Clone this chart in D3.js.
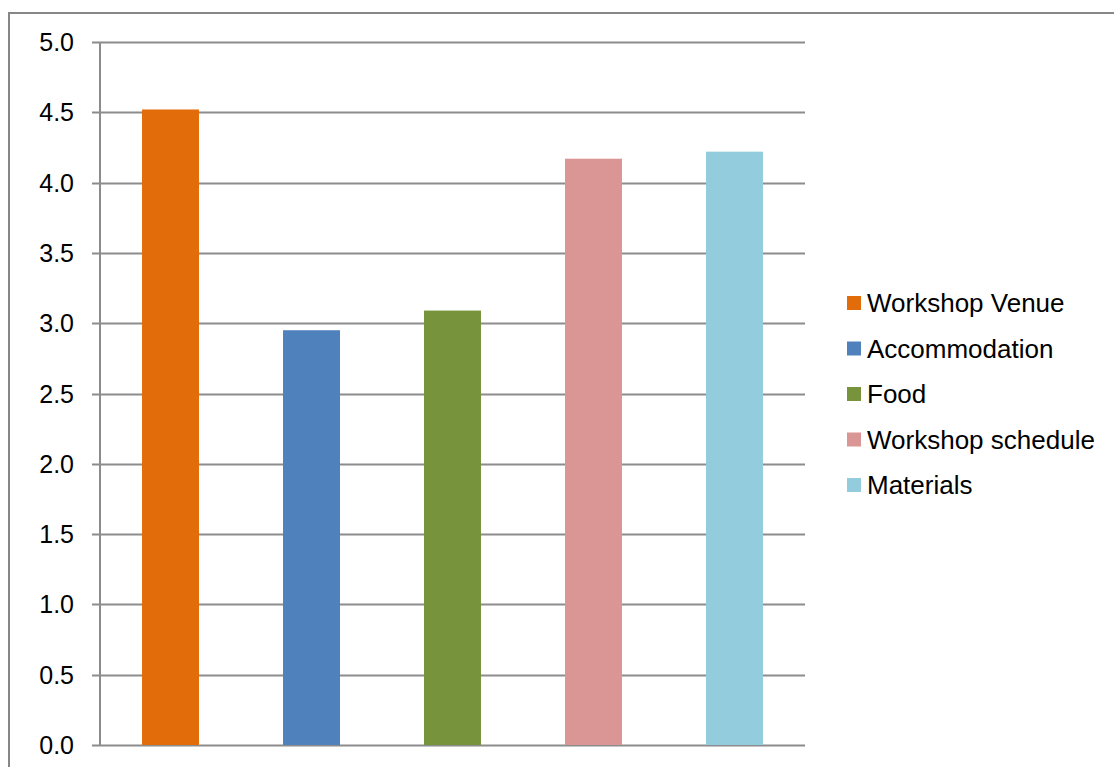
<!DOCTYPE html>
<html>
<head>
<meta charset="utf-8">
<script src="https://cdn.jsdelivr.net/npm/d3@7"></script>
<style>
    body { margin: 0; background: #fff; }
    svg { display: block; font-family: "Liberation Sans", Arial, sans-serif; }
</style>
</head>
<body>
<div id="chart"></div>
<script>
const categories = ['Workshop Venue', 'Accommodation', 'Food', 'Workshop schedule', 'Materials'];
const values = [4.52, 2.95, 3.09, 4.17, 4.22];
const colors = ['#e36c0a', '#4f81bd', '#77933c', '#d99694', '#93cddd'];
const yTicks = [0, 0.5, 1, 1.5, 2, 2.5, 3, 3.5, 4, 4.5, 5];

const width = 1114, height = 767;
const plot = {left: 100, right: 805, top: 42, bottom: 745};

const svg = d3.select('#chart').append('svg')
    .attr('width', width)
    .attr('height', height);

// chart frame
svg.append('path')
    .attr('d', `M9,${height + 5}V13H${width + 5}`)
    .attr('fill', 'none')
    .attr('stroke', '#878787')
    .attr('stroke-width', 2);

const x = d3.scaleBand()
    .domain(categories)
    .range([plot.left, plot.right])
    .paddingInner(0.596)
    .paddingOuter(0.298);

const y = d3.scaleLinear()
    .domain([0, 5])
    .range([plot.bottom, plot.top]);

// gridlines
svg.append('g')
    .selectAll('line')
    .data(yTicks)
    .join('line')
    .attr('x1', plot.left - 8)
    .attr('x2', plot.right)
    .attr('y1', d => Math.round(y(d)) + 0.5)
    .attr('y2', d => Math.round(y(d)) + 0.5)
    .attr('stroke', '#8c8c8c')
    .attr('stroke-width', 2);

// y axis line
svg.append('line')
    .attr('x1', plot.left)
    .attr('x2', plot.left)
    .attr('y1', plot.top)
    .attr('y2', plot.bottom)
    .attr('stroke', '#8c8c8c')
    .attr('stroke-width', 2);

// tick labels
svg.append('g')
    .selectAll('text')
    .data(yTicks)
    .join('text')
    .attr('x', 74)
    .attr('y', d => y(d))
    .attr('dy', '0.36em')
    .attr('text-anchor', 'end')
    .attr('font-size', 25)
    .attr('fill', '#000')
    .text(d => d3.format('.1f')(d));

// bars
svg.append('g')
    .selectAll('rect')
    .data(values)
    .join('rect')
    .attr('x', (d, i) => x(categories[i]))
    .attr('width', x.bandwidth())
    .attr('y', d => y(d))
    .attr('height', d => y(0) - y(d))
    .attr('fill', (d, i) => colors[i]);

// legend
const legend = svg.append('g')
    .attr('transform', 'translate(847, 303)');

const items = legend.selectAll('g')
    .data(categories)
    .join('g')
    .attr('transform', (d, i) => `translate(0, ${i * 45.5})`);

items.append('rect')
    .attr('x', 0)
    .attr('y', -7)
    .attr('width', 14)
    .attr('height', 14)
    .attr('fill', (d, i) => colors[i]);

items.append('text')
    .attr('x', 20)
    .attr('y', 0)
    .attr('dy', '0.36em')
    .attr('font-size', 26)
    .attr('fill', '#000')
    .text(d => d);
</script>
</body>
</html>
